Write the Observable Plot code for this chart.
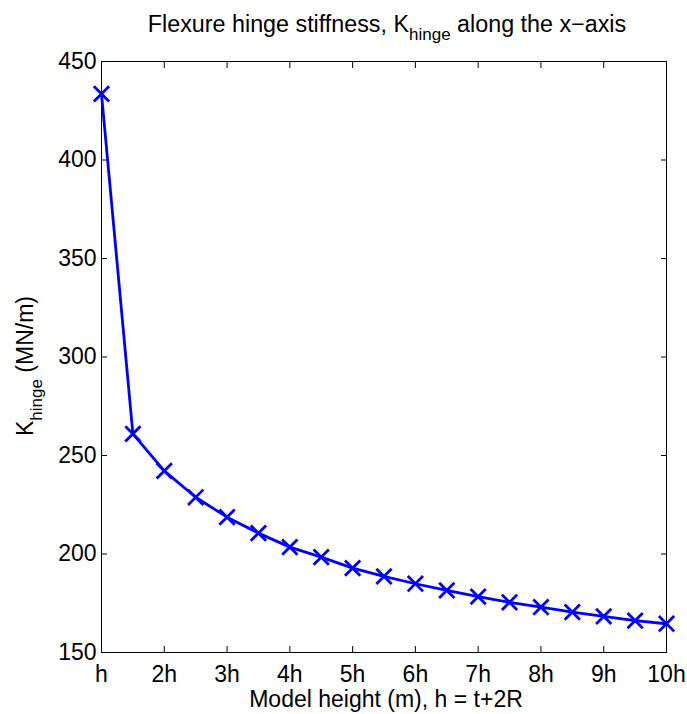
<!DOCTYPE html>
<html><head><meta charset="utf-8">
<script src="https://cdn.jsdelivr.net/npm/d3@7"></script>
<script src="https://cdn.jsdelivr.net/npm/@observablehq/plot@0.6"></script>
<style>
body{margin:0;background:#fff}
#chart{width:687px;height:714px}
</style>
</head><body><div id="chart"></div>
<script>
const modelHeight = [1, 1.5, 2, 2.5, 3, 3.5, 4, 4.5, 5, 5.5, 6, 6.5, 7, 7.5, 8, 8.5, 9, 9.5, 10];
const stiffness = [433.6, 261, 242.2, 228.8, 218.7, 210.6, 203.5, 198.4, 192.8, 188.6, 184.9, 181.5, 178.4, 175.5, 173, 170.5, 168.3, 166.2, 164.6];
const xTicks = [1, 2, 3, 4, 5, 6, 7, 8, 9, 10];
const xTickLabels = ["h", "2h", "3h", "4h", "5h", "6h", "7h", "8h", "9h", "10h"];
const yTicks = [150, 200, 250, 300, 350, 400, 450];
const titleParts = ["Flexure hinge stiffness, K", "hinge", " along the x\u2212axis"];
const yLabelParts = ["K", "hinge", " (MN/m)"];
const xLabel = "Model height (m), h = t+2R";

const data = modelHeight.map((x, i) => ({x, k: stiffness[i]}));
const font = "'Liberation Sans', Arial, Helvetica, sans-serif";
const blue = "#0000ff";

const plot = Plot.plot({
  width: 687, height: 714,
  marginLeft: 101, marginRight: 21, marginTop: 61, marginBottom: 62,
  style: {fontFamily: font, fontSize: "23px", background: "white", color: "black"},
  x: {domain: [1, 10]},
  y: {domain: [150, 450]},
  marks: [
    Plot.axisX({anchor: "bottom", ticks: xTicks, tickFormat: (d) => xTickLabels[xTicks.indexOf(d)], tickSize: -6, tickPadding: 19, label: null, fontSize: 23}),
    Plot.axisX({anchor: "top", ticks: xTicks, tickFormat: () => "", tickSize: -6, tickPadding: 0, label: null}),
    Plot.axisY({anchor: "left", ticks: yTicks, tickSize: -6, tickPadding: 11, label: null, fontSize: 23}),
    Plot.axisY({anchor: "right", ticks: yTicks, tickFormat: () => "", tickSize: -6, tickPadding: 0, label: null}),
    Plot.frame({stroke: "black", strokeWidth: 1}),
    Plot.line(data, {x: "x", y: "k", stroke: blue, strokeWidth: 2.8}),
    Plot.dot(data, {x: "x", y: "k", symbol: "times", r: 7, stroke: blue, strokeWidth: 2.8})
  ]
});
document.getElementById("chart").appendChild(plot);

const svg = d3.select(plot);
// Title
const t = svg.append("text")
  .attr("x", 387).attr("y", 32)
  .attr("text-anchor", "middle")
  .attr("font-family", font).attr("font-size", 23.3).attr("fill", "black");
t.append("tspan").text(titleParts[0]);
t.append("tspan").attr("dy", 8).attr("font-size", 17).text(titleParts[1]);
t.append("tspan").attr("dy", -8).text(titleParts[2]);

// X label
svg.append("text")
  .attr("x", 386).attr("y", 707)
  .attr("text-anchor", "middle")
  .attr("font-family", font).attr("font-size", 23).attr("fill", "black")
  .text(xLabel);

// Y label
const yl = svg.append("text")
  .attr("transform", "translate(33,366) rotate(-90)")
  .attr("text-anchor", "middle")
  .attr("font-family", font).attr("font-size", 23).attr("fill", "black");
yl.append("tspan").text(yLabelParts[0]);
yl.append("tspan").attr("dy", 9).attr("font-size", 17).text(yLabelParts[1]);
yl.append("tspan").attr("dy", -9).text(yLabelParts[2]);
</script>
</body></html>
